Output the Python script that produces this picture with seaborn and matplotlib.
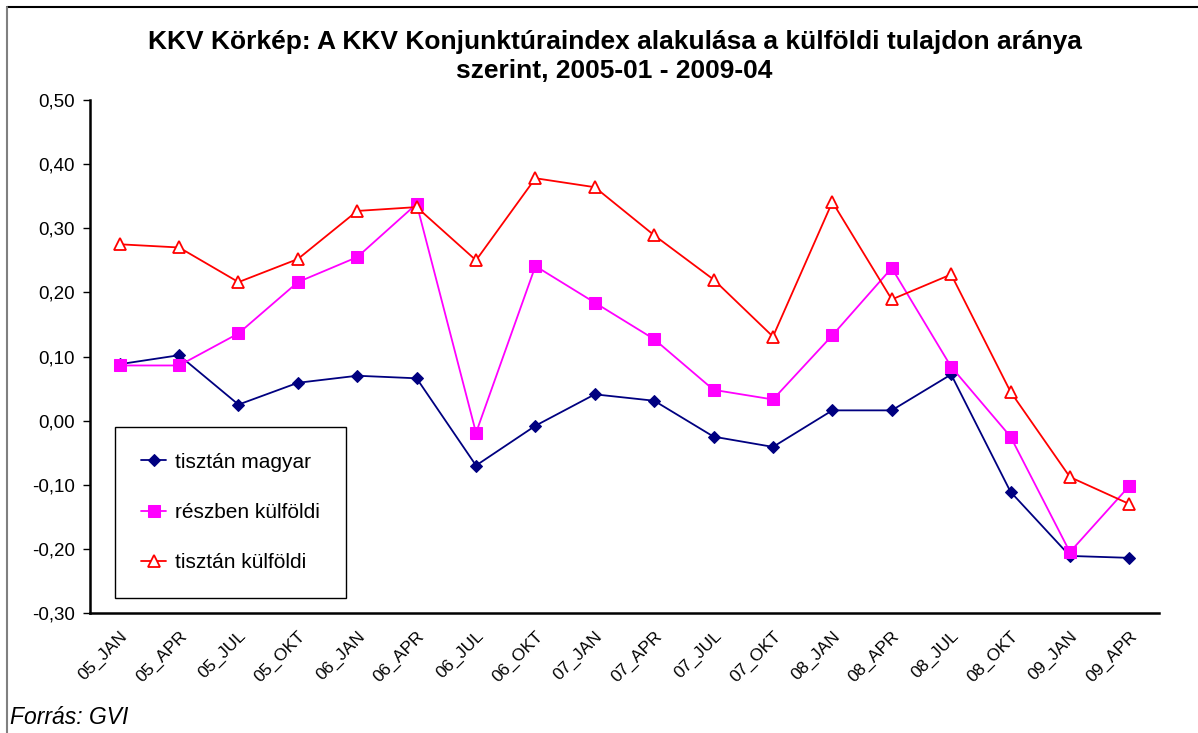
import numpy as np
import pandas as pd
import seaborn as sns
from matplotlib import pyplot as plt
from matplotlib.lines import Line2D
from matplotlib.ticker import FixedLocator, FuncFormatter

# quarters on the category axis
periods = ["05_JAN", "05_APR", "05_JUL", "05_OKT", "06_JAN", "06_APR",
           "06_JUL", "06_OKT", "07_JAN", "07_APR", "07_JUL", "07_OKT",
           "08_JAN", "08_APR", "08_JUL", "08_OKT", "09_JAN", "09_APR"]

# index values
tisztan_magyar = [0.088, 0.102, 0.025, 0.059, 0.070, 0.066, -0.070, -0.008, 0.041,
                  0.031, -0.025, -0.041, 0.016, 0.016, 0.072, -0.111, -0.211, -0.214]
reszben_kulfoldi = [0.086, 0.086, 0.136, 0.216, 0.255, 0.338, -0.019, 0.241, 0.184,
                    0.127, 0.048, 0.033, 0.133, 0.238, 0.084, -0.025, -0.205, -0.102]
tisztan_kulfoldi = [0.275, 0.270, 0.216, 0.252, 0.327, 0.333, 0.250, 0.378, 0.364,
                    0.289, 0.220, 0.131, 0.341, 0.189, 0.228, 0.045, -0.088, -0.130]

series_names = ["tisztán magyar", "részben külföldi", "tisztán külföldi"]
y_ticks = [0.5, 0.4, 0.3, 0.2, 0.1, 0.0, -0.1, -0.2, -0.3]

df = pd.DataFrame({
    "Időszak": periods * 3,
    "Index": tisztan_magyar + reszben_kulfoldi + tisztan_kulfoldi,
    "Csoport": np.repeat(series_names, len(periods)),
})

sns.set_style("white")
plt.rcParams["font.family"] = ["Liberation Sans", "DejaVu Sans"]
plt.rcParams.update({"text.color": "black", "xtick.color": "black",
                     "ytick.color": "black", "axes.labelcolor": "black"})

# line styles per series (Excel-like)
styles = {
    "tisztán magyar": dict(color="#000080", marker="D", markersize=6,
                           markerfacecolor="#000080", markeredgecolor="#000080"),
    "részben külföldi": dict(color="#FF00FF", marker="s", markersize=8,
                             markerfacecolor="#FF00FF", markeredgecolor="#FF00FF"),
    "tisztán külföldi": dict(color="#FF0000", marker="^", markersize=9,
                             markerfacecolor="white", markeredgecolor="#FF0000",
                             markeredgewidth=1.3),
}

fig = plt.figure(figsize=(11.98, 7.33), dpi=100)
ax = fig.add_axes([90 / 1198, 1 - 613 / 733, 1069 / 1198, 513 / 733])

for name in series_names:
    sub = df[df["Csoport"] == name]
    sns.lineplot(data=sub, x="Időszak", y="Index", ax=ax, label=name,
                 linewidth=1.3, sort=False, **styles[name])

n = len(periods)
ax.set_xlim(-0.5, n - 0.5)
ax.set_ylim(-0.3, 0.5)

# category labels centred, tick marks between categories
ax.xaxis.set_major_locator(FixedLocator(range(n)))
ax.set_xticklabels(periods, rotation=45, ha="right", rotation_mode="anchor", fontsize=12.5)
ax.xaxis.set_minor_locator(FixedLocator(np.arange(-0.5, n, 1.0)))
ax.tick_params(axis="x", which="major", length=0, pad=11)
ax.tick_params(axis="x", which="minor", length=5, width=1, direction="out", color="black")

ax.set_yticks(y_ticks)
ax.yaxis.set_major_formatter(FuncFormatter(lambda v, p: f"{v:.2f}".replace(".", ",")))
ax.tick_params(axis="y", length=5, width=1, direction="out", left=True, labelsize=13.5, pad=6)

for side in ["top", "right"]:
    ax.spines[side].set_visible(False)
for side in ["left", "bottom"]:
    ax.spines[side].set_color("black")
    ax.spines[side].set_linewidth(1.8)

ax.set(xlabel=None, ylabel=None)
plt.grid(visible=False)

leg = ax.legend(loc="lower left", bbox_to_anchor=(0.0234, 0.029), borderaxespad=0,
                fontsize=15, labelspacing=1.5, handlelength=1.2, handletextpad=0.45,
                borderpad=1.25, fancybox=False, framealpha=1, edgecolor="black")
leg.get_frame().set_linewidth(1.0)

fig.text(0.513, 1 - 30 / 733,
         "KKV Körkép: A KKV Konjunktúraindex alakulása a külföldi tulajdon aránya\n"
         "szerint, 2005-01 - 2009-04",
         ha="center", va="top", fontsize=19, fontweight="bold", linespacing=1.27)

fig.text(10 / 1198, 1 - 717 / 733, "Forrás: GVI", ha="left", va="center",
         fontsize=16.5, style="italic")

# chart frame (top and left edge as in the source)
fig.add_artist(Line2D([7 / 1198, 1], [1 - 7 / 733, 1 - 7 / 733], color="black", linewidth=1.5))
fig.add_artist(Line2D([7 / 1198, 7 / 1198], [0, 1 - 7 / 733], color="#808080", linewidth=1.5))

plt.savefig("out.png", dpi=100)
